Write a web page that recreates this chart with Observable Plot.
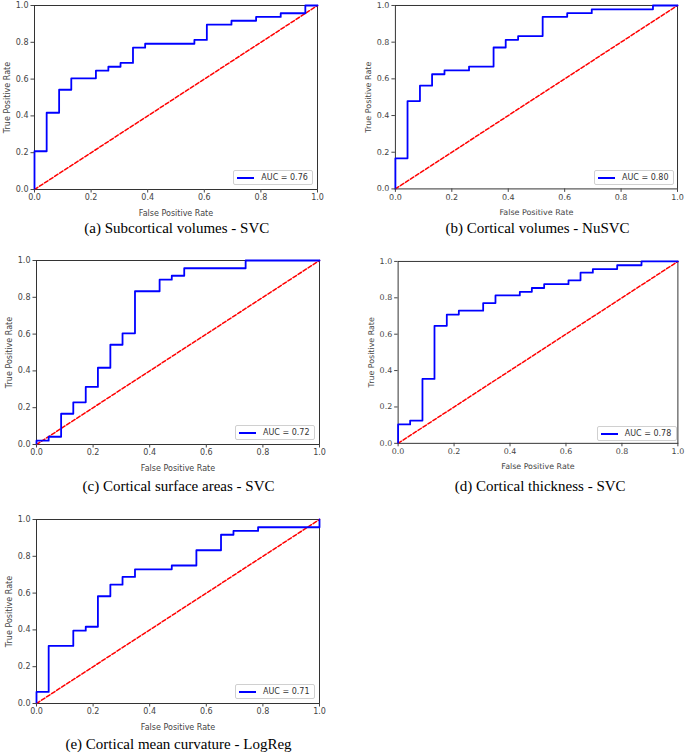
<!DOCTYPE html>
<html>
<head>
<meta charset="utf-8">
<script src="https://cdn.jsdelivr.net/npm/d3@7"></script>
<script src="https://cdn.jsdelivr.net/npm/@observablehq/plot@0.6"></script>
<style>
  body { margin: 0; background: #fff; }
  #root { position: relative; width: 685px; height: 756px; overflow: hidden; background: #fff; }
  .panel { position: absolute; }
  .panel svg { overflow: visible; }
  .cap { position: absolute; font-family: "Liberation Serif", "Times New Roman", serif; font-size: 15px; color: #000; white-space: nowrap; transform: translate(-50%, -50%); }
  .legend { position: absolute; box-sizing: border-box; height: 15px; border: 1px solid #d0d0d0; border-radius: 2px; background: #fff; font-family: "DejaVu Sans", sans-serif; font-size: 8px; color: #333; display: flex; align-items: center; padding: 0 4px 0 3px; white-space: nowrap; }
  .legend .sw { display: inline-block; width: 17px; height: 2px; background: #0000ff; margin-right: 7px; }
</style>
</head>
<body>
<div id="root"></div>
<script>
// ---- data ----
const ticks = [0, 0.2, 0.4, 0.6, 0.8, 1.0];
const chance = [0, 1];

const fprA = [0, 0, 0.043, 0.043, 0.087, 0.087, 0.130, 0.130, 0.217, 0.217, 0.261, 0.261, 0.304, 0.304, 0.348, 0.348, 0.391, 0.391, 0.565, 0.565, 0.609, 0.609, 0.696, 0.696, 0.783, 0.783, 0.870, 0.870, 0.957, 0.957, 1.0];
const tprA = [0, 0.208, 0.208, 0.417, 0.417, 0.542, 0.542, 0.604, 0.604, 0.646, 0.646, 0.667, 0.667, 0.688, 0.688, 0.771, 0.771, 0.792, 0.792, 0.813, 0.813, 0.896, 0.896, 0.917, 0.917, 0.938, 0.938, 0.958, 0.958, 1.0, 1.0];

const fprB = [0, 0, 0.043, 0.043, 0.087, 0.087, 0.130, 0.130, 0.174, 0.174, 0.261, 0.261, 0.348, 0.348, 0.391, 0.391, 0.435, 0.435, 0.522, 0.522, 0.609, 0.609, 0.696, 0.696, 0.913, 0.913, 1.0];
const tprB = [0, 0.167, 0.167, 0.479, 0.479, 0.563, 0.563, 0.625, 0.625, 0.646, 0.646, 0.667, 0.667, 0.771, 0.771, 0.813, 0.813, 0.833, 0.833, 0.938, 0.938, 0.958, 0.958, 0.979, 0.979, 1.0, 1.0];

const fprC = [0, 0, 0.043, 0.043, 0.087, 0.087, 0.130, 0.130, 0.174, 0.174, 0.217, 0.217, 0.261, 0.261, 0.304, 0.304, 0.348, 0.348, 0.435, 0.435, 0.478, 0.478, 0.522, 0.522, 0.739, 0.739, 1.0];
const tprC = [0, 0.021, 0.021, 0.042, 0.042, 0.167, 0.167, 0.229, 0.229, 0.313, 0.313, 0.417, 0.417, 0.542, 0.542, 0.604, 0.604, 0.833, 0.833, 0.896, 0.896, 0.917, 0.917, 0.958, 0.958, 1.0, 1.0];

const fprD = [0, 0, 0.043, 0.043, 0.087, 0.087, 0.130, 0.130, 0.174, 0.174, 0.217, 0.217, 0.304, 0.304, 0.348, 0.348, 0.435, 0.435, 0.478, 0.478, 0.522, 0.522, 0.609, 0.609, 0.652, 0.652, 0.696, 0.696, 0.783, 0.783, 0.870, 0.870, 1.0];
const tprD = [0, 0.104, 0.104, 0.125, 0.125, 0.354, 0.354, 0.646, 0.646, 0.708, 0.708, 0.729, 0.729, 0.771, 0.771, 0.813, 0.813, 0.833, 0.833, 0.854, 0.854, 0.875, 0.875, 0.896, 0.896, 0.938, 0.938, 0.958, 0.958, 0.979, 0.979, 1.0, 1.0];

const fprE = [0, 0, 0.043, 0.043, 0.130, 0.130, 0.174, 0.174, 0.217, 0.217, 0.261, 0.261, 0.304, 0.304, 0.348, 0.348, 0.478, 0.478, 0.565, 0.565, 0.652, 0.652, 0.696, 0.696, 0.783, 0.783, 1.0, 1.0];
const tprE = [0, 0.063, 0.063, 0.313, 0.313, 0.396, 0.396, 0.417, 0.417, 0.583, 0.583, 0.646, 0.646, 0.688, 0.688, 0.729, 0.729, 0.75, 0.75, 0.833, 0.833, 0.917, 0.917, 0.938, 0.938, 0.958, 0.958, 1.0];

const aucs = ["0.76", "0.80", "0.72", "0.78", "0.71"];
const captions = [
  "(a) Subcortical volumes - SVC",
  "(b) Cortical volumes - NuSVC",
  "(c) Cortical surface areas - SVC",
  "(d) Cortical thickness - SVC",
  "(e) Cortical mean curvature - LogReg"
];

// ---- layout ----
const ML = 34, MT = 5, PW = 283, PH = 184, MR = 8, MB = 30;
const layout = [
  {fpr: fprA, tpr: tprA, px: 34.3, py: 5.3, capY: 228},
  {fpr: fprB, tpr: tprB, px: 395, py: 5.3, capY: 228},
  {fpr: fprC, tpr: tprC, px: 36, py: 260, capY: 486},
  {fpr: fprD, tpr: tprD, px: 397.7, py: 261, capY: 486},
  {fpr: fprE, tpr: tprE, px: 36, py: 519, capY: 744}
];

const root = document.getElementById("root");
const fmt = d3.format(".1f");

layout.forEach((p, i) => {
  const data = p.fpr.map((x, j) => ({x, y: p.tpr[j]}));
  const diag = chance.map(v => ({x: v, y: v}));
  const chart = Plot.plot({
    width: ML + PW + MR,
    height: MT + PH + MB,
    marginLeft: ML, marginTop: MT, marginRight: MR, marginBottom: MB,
    style: {fontFamily: "DejaVu Sans, sans-serif", fontSize: "8px", color: "#444", background: "transparent", overflow: "visible"},
    x: {domain: [0, 1]},
    y: {domain: [0, 1]},
    marks: [
      Plot.frame({stroke: "#333", strokeWidth: 1}),
      Plot.line(diag, {x: "x", y: "y", stroke: "#ff0000", strokeWidth: 1.5, strokeDasharray: "4,2"}),
      Plot.line(data, {x: "x", y: "y", stroke: "#0000ff", strokeWidth: 1.8}),
      Plot.axisX({ticks: ticks, tickFormat: fmt, tickSize: 3.5, tickPadding: 1.5, label: "False Positive Rate", labelAnchor: "center", labelArrow: "none", labelOffset: 26}),
      Plot.axisY({ticks: ticks, tickFormat: fmt, tickSize: 3.5, tickPadding: 2.5, label: "True Positive Rate", labelAnchor: "center", labelArrow: "none", labelOffset: 30})
    ]
  });
  const div = document.createElement("div");
  div.className = "panel";
  div.style.left = (p.px - ML) + "px";
  div.style.top = (p.py - MT) + "px";
  div.appendChild(chart);
  root.appendChild(div);

  const leg = document.createElement("div");
  leg.className = "legend";
  leg.style.right = (685 - (p.px + PW) + 4) + "px";
  leg.style.top = (p.py + PH - 4 - 15) + "px";
  leg.style.width = "80px";
  leg.innerHTML = '<span class="sw"></span><span>AUC = ' + aucs[i] + '</span>';
  root.appendChild(leg);

  const cap = document.createElement("div");
  cap.className = "cap";
  cap.style.left = (p.px + PW / 2 + 1) + "px";
  cap.style.top = p.capY + "px";
  cap.textContent = captions[i];
  root.appendChild(cap);
});
</script>
</body>
</html>
